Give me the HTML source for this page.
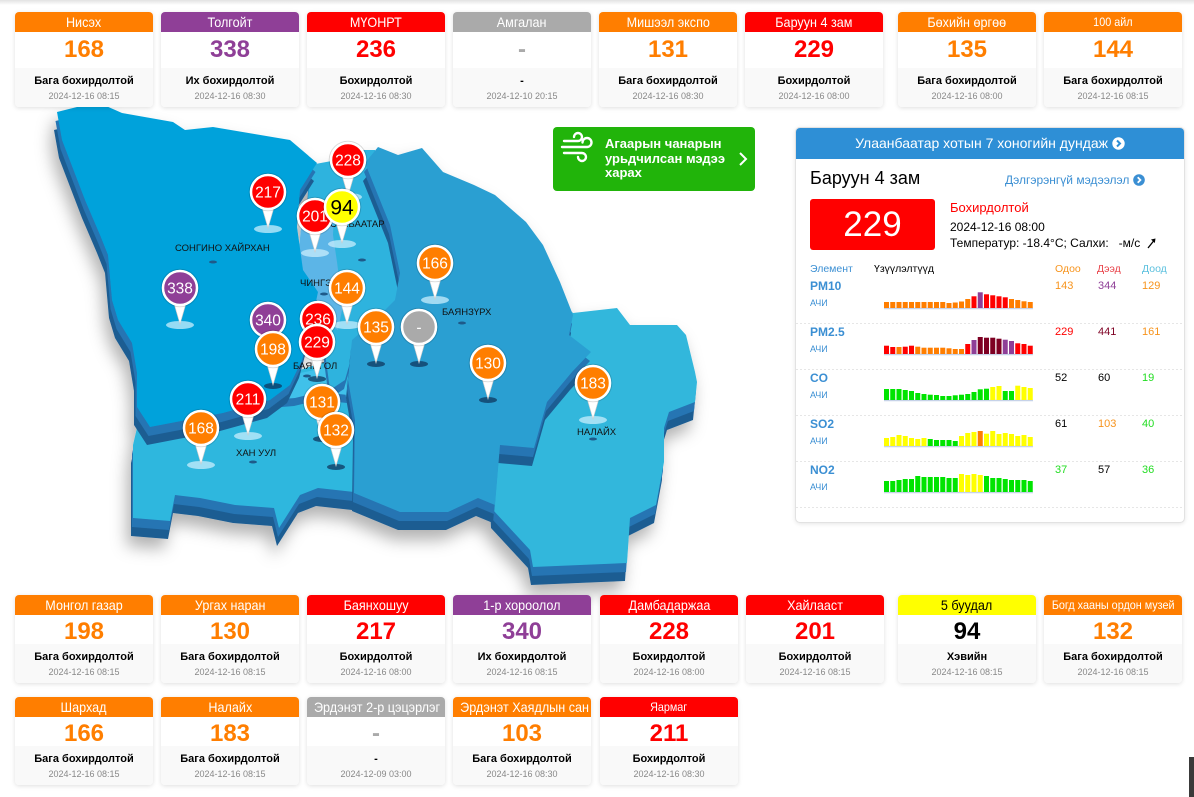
<!DOCTYPE html>
<html><head><meta charset="utf-8">
<style>
*{box-sizing:border-box;margin:0;padding:0}
body{width:1194px;height:797px;overflow:hidden;background:#fff;font-family:"Liberation Sans",Arial,sans-serif;position:relative}
.topbar{position:absolute;left:0;top:0;width:1194px;height:5px;background:linear-gradient(#e2e2e2,#fff)}
.c{position:absolute;width:138px;background:#fff;border-radius:4px;box-shadow:0 1px 5px rgba(0,0,0,.13);overflow:hidden}
.h{height:20px;line-height:20px;text-align:center;color:#fff;font-size:14px;white-space:nowrap;overflow:hidden}
.h span{display:inline-block;transform:scaleX(.9)}
.h.s{font-size:12px}
.v{font-size:24px;font-weight:bold;text-align:center}
.t .v{height:36px;line-height:36px}
.b .v{height:29px;line-height:34px}
.f{height:39px;background:#f9f9f9;text-align:center}
.k{font-size:11px;font-weight:bold;line-height:14px;padding-top:6px;color:#000}
.d{font-size:9px;color:#888;line-height:12px;margin-top:2px}
.O{background:#ff7e00}.R{background:#ff0000}.P{background:#8f3f97}.G{background:#aaaaaa}.Y{background:#ffff00;color:#000}
.tO{color:#ff7e00}.tR{color:#ff0000}.tP{color:#8f3f97}.tG{color:#aaa}.tK{color:#000}
.abs{position:absolute;white-space:nowrap}
</style></head><body>
<div class="topbar"></div>

<!-- MAP -->
<svg class="abs" style="left:0;top:0" width="1194" height="797" viewBox="0 0 1194 797">
<defs>
<filter id="sh" x="-20%" y="-20%" width="140%" height="140%"><feDropShadow dx="-4" dy="10" stdDeviation="8" flood-color="#000" flood-opacity="0.3"/></filter>
<polygon id="nl" points="560,300 573,313 617,308 630,325 677,325 686,335 695,372 697,382 695,402 669,412 664,428 664,462 656,505 630,518 627,563 533,567 530,550 493,510 490,440 540,400 565,340"/>
<polygon id="ku" points="133,445 140,415 230,400 300,370 345,355 360,380 360,493 354,492 318,488 300,495 279,528 274,508 235,505 200,498 175,495 170,521 133,518"/>
<polygon id="bg" points="270,400 278,380 300,373 325,368 345,378 348,395 320,392 295,398"/>
<polygon id="sb" points="310,165 337,160 360,150 375,150 385,200 392,240 400,275 395,305 380,322 355,345 345,380 330,390 318,300 310,280 305,250"/>
<polygon id="ch" points="302,215 318,205 334,210 333,235 337,262 340,285 344,300 338,330 325,322 318,302 305,285 299,250"/>
<polygon id="skh" points="57,112 97,102 122,113 173,122 185,130 213,127 290,140 317,163 300,190 297,227 303,270 318,292 310,330 302,360 290,385 270,400 223,413 150,427 137,407 137,373 132,343 118,320 112,300 108,255 100,235 85,200 62,140"/>
<polygon id="bz" points="365,163 378,147 398,155 422,148 443,172 474,185 495,195 526,222 543,245 560,282 573,315 569,335 591,352 572,372 547,402 534,448 500,445 495,505 478,498 448,512 400,512 354,493 355,420 348,380 352,340 375,320 395,300 400,273 390,225"/>
</defs>
<g filter="url(#sh)">
<use href="#nl" fill="#1d5d92" transform="translate(-2,18)"/><use href="#nl" fill="#2574b3" transform="translate(-1,9)"/><use href="#nl" fill="#30b7dc"/>
<use href="#ku" fill="#1d5d92" transform="translate(-2,18)"/><use href="#ku" fill="#2574b3" transform="translate(-1,9)"/><use href="#ku" fill="#2fb7de"/>
<use href="#bg" fill="#2574b3" transform="translate(-1,8)"/><use href="#bg" fill="#40c1ea"/>
<use href="#sb" fill="#2574b3" transform="translate(-1,9)"/><use href="#sb" fill="#2fb3de"/>
<use href="#ch" fill="#5cb5e7"/>
<use href="#skh" fill="#1d5d92" transform="translate(-3,18)"/><use href="#skh" fill="#2574b3" transform="translate(-1.5,9)"/><use href="#skh" fill="#05a2db"/>
<use href="#bz" fill="#1d5d92" transform="translate(-2,18)"/><use href="#bz" fill="#2574b3" transform="translate(-1,9)"/><use href="#bz" fill="#2c9fd2"/>
</g>
<!-- labels -->
<g font-family="Liberation Sans, Arial, sans-serif" font-size="9.5" fill="#111">
<text x="175" y="251">СОНГИНО ХАЙРХАН</text>
<text x="330" y="227">СҮХБААТАР</text>
<text x="300" y="286">ЧИНГЭЛТЭЙ</text>
<text x="442" y="315">БАЯНЗҮРХ</text>
<text x="293" y="369">БАЯНГОЛ</text>
<text x="236" y="456">ХАН УУЛ</text>
<text x="577" y="435">НАЛАЙХ</text>
</g>
<g fill="#1e5a8a">
<ellipse cx="213" cy="262" rx="4" ry="1.5"/><ellipse cx="362" cy="260" rx="4" ry="1.5"/><ellipse cx="324" cy="294" rx="4" ry="1.5"/><ellipse cx="462" cy="323" rx="4" ry="1.5"/><ellipse cx="307" cy="376" rx="4" ry="1.5"/><ellipse cx="253" cy="462" rx="4" ry="1.5"/><ellipse cx="593" cy="439" rx="4" ry="1.5"/>
</g>
<!-- marker shadows -->
<g fill="rgba(200,238,252,0.75)">
<ellipse cx="348" cy="197" rx="14" ry="4"/><ellipse cx="268" cy="229" rx="14" ry="4"/><ellipse cx="315" cy="253" rx="14" ry="4"/><ellipse cx="342" cy="244" rx="14" ry="4"/><ellipse cx="180" cy="325" rx="14" ry="4"/><ellipse cx="435" cy="300" rx="14" ry="4"/><ellipse cx="347" cy="325" rx="14" ry="4"/><ellipse cx="593" cy="420" rx="14" ry="4"/><ellipse cx="248" cy="436" rx="14" ry="4"/><ellipse cx="201" cy="465" rx="14" ry="4"/>
</g>
<g fill="rgba(15,55,95,0.75)">
<ellipse cx="376" cy="364" rx="9" ry="3"/><ellipse cx="419" cy="364" rx="9" ry="3"/><ellipse cx="273" cy="386" rx="9" ry="3"/><ellipse cx="317" cy="379" rx="9" ry="3"/><ellipse cx="488" cy="400" rx="9" ry="3"/><ellipse cx="322" cy="439" rx="9" ry="3"/><ellipse cx="336" cy="467" rx="9" ry="3"/>
</g>
<!-- markers -->
<g font-family="Liberation Sans, Arial, sans-serif" font-size="15.5" text-anchor="middle" fill="#fff">
<g transform="translate(348,160)"><path d="M-7 12 L0 36 L7 12Z" fill="#fff" stroke="#ccc" stroke-width=".6"/><circle r="18.8" fill="none" stroke="rgba(0,0,0,.15)"/><circle r="17" fill="#ff0000" stroke="#fff" stroke-width="2.5"/><text y="5.5">228</text></g>
<g transform="translate(268,192)"><path d="M-7 12 L0 36 L7 12Z" fill="#fff" stroke="#ccc" stroke-width=".6"/><circle r="18.8" fill="none" stroke="rgba(0,0,0,.15)"/><circle r="17" fill="#ff0000" stroke="#fff" stroke-width="2.5"/><text y="5.5">217</text></g>
<g transform="translate(315,216)"><path d="M-7 12 L0 36 L7 12Z" fill="#fff" stroke="#ccc" stroke-width=".6"/><circle r="18.8" fill="none" stroke="rgba(0,0,0,.15)"/><circle r="17" fill="#ff0000" stroke="#fff" stroke-width="2.5"/><text y="5.5">201</text></g>
<g transform="translate(342,207)"><path d="M-7 12 L0 36 L7 12Z" fill="#fff" stroke="#ccc" stroke-width=".6"/><circle r="18.8" fill="none" stroke="rgba(0,0,0,.15)"/><circle r="17" fill="#ffff00" stroke="#fff" stroke-width="2.5"/><text y="7.5" font-size="21" fill="#000">94</text></g>
<g transform="translate(180,288)"><path d="M-7 12 L0 36 L7 12Z" fill="#fff" stroke="#ccc" stroke-width=".6"/><circle r="18.8" fill="none" stroke="rgba(0,0,0,.15)"/><circle r="17" fill="#8f3f97" stroke="#fff" stroke-width="2.5"/><text y="5.5">338</text></g>
<g transform="translate(435,263)"><path d="M-7 12 L0 36 L7 12Z" fill="#fff" stroke="#ccc" stroke-width=".6"/><circle r="18.8" fill="none" stroke="rgba(0,0,0,.15)"/><circle r="17" fill="#ff7e00" stroke="#fff" stroke-width="2.5"/><text y="5.5">166</text></g>
<g transform="translate(347,288)"><path d="M-7 12 L0 36 L7 12Z" fill="#fff" stroke="#ccc" stroke-width=".6"/><circle r="18.8" fill="none" stroke="rgba(0,0,0,.15)"/><circle r="17" fill="#ff7e00" stroke="#fff" stroke-width="2.5"/><text y="5.5">144</text></g>
<g transform="translate(268,320)"><path d="M-7 12 L0 36 L7 12Z" fill="#fff" stroke="#ccc" stroke-width=".6"/><circle r="18.8" fill="none" stroke="rgba(0,0,0,.15)"/><circle r="17" fill="#8f3f97" stroke="#fff" stroke-width="2.5"/><text y="5.5">340</text></g>
<g transform="translate(318,319)"><path d="M-7 12 L0 36 L7 12Z" fill="#fff" stroke="#ccc" stroke-width=".6"/><circle r="18.8" fill="none" stroke="rgba(0,0,0,.15)"/><circle r="17" fill="#ff0000" stroke="#fff" stroke-width="2.5"/><text y="5.5">236</text></g>
<g transform="translate(376,327)"><path d="M-7 12 L0 36 L7 12Z" fill="#fff" stroke="#ccc" stroke-width=".6"/><circle r="18.8" fill="none" stroke="rgba(0,0,0,.15)"/><circle r="17" fill="#ff7e00" stroke="#fff" stroke-width="2.5"/><text y="5.5">135</text></g>
<g transform="translate(419,327)"><path d="M-7 12 L0 36 L7 12Z" fill="#fff" stroke="#ccc" stroke-width=".6"/><circle r="18.8" fill="none" stroke="rgba(0,0,0,.15)"/><circle r="17" fill="#aaaaaa" stroke="#fff" stroke-width="2.5"/><text y="5.5">-</text></g>
<g transform="translate(273,349)"><path d="M-7 12 L0 36 L7 12Z" fill="#fff" stroke="#ccc" stroke-width=".6"/><circle r="18.8" fill="none" stroke="rgba(0,0,0,.15)"/><circle r="17" fill="#ff7e00" stroke="#fff" stroke-width="2.5"/><text y="5.5">198</text></g>
<g transform="translate(317,342)"><path d="M-7 12 L0 36 L7 12Z" fill="#fff" stroke="#ccc" stroke-width=".6"/><circle r="18.8" fill="none" stroke="rgba(0,0,0,.15)"/><circle r="17" fill="#ff0000" stroke="#fff" stroke-width="2.5"/><text y="5.5">229</text></g>
<g transform="translate(488,363)"><path d="M-7 12 L0 36 L7 12Z" fill="#fff" stroke="#ccc" stroke-width=".6"/><circle r="18.8" fill="none" stroke="rgba(0,0,0,.15)"/><circle r="17" fill="#ff7e00" stroke="#fff" stroke-width="2.5"/><text y="5.5">130</text></g>
<g transform="translate(593,383)"><path d="M-7 12 L0 36 L7 12Z" fill="#fff" stroke="#ccc" stroke-width=".6"/><circle r="18.8" fill="none" stroke="rgba(0,0,0,.15)"/><circle r="17" fill="#ff7e00" stroke="#fff" stroke-width="2.5"/><text y="5.5">183</text></g>
<g transform="translate(248,399)"><path d="M-7 12 L0 36 L7 12Z" fill="#fff" stroke="#ccc" stroke-width=".6"/><circle r="18.8" fill="none" stroke="rgba(0,0,0,.15)"/><circle r="17" fill="#ff0000" stroke="#fff" stroke-width="2.5"/><text y="5.5">211</text></g>
<g transform="translate(322,402)"><path d="M-7 12 L0 36 L7 12Z" fill="#fff" stroke="#ccc" stroke-width=".6"/><circle r="18.8" fill="none" stroke="rgba(0,0,0,.15)"/><circle r="17" fill="#ff7e00" stroke="#fff" stroke-width="2.5"/><text y="5.5">131</text></g>
<g transform="translate(201,428)"><path d="M-7 12 L0 36 L7 12Z" fill="#fff" stroke="#ccc" stroke-width=".6"/><circle r="18.8" fill="none" stroke="rgba(0,0,0,.15)"/><circle r="17" fill="#ff7e00" stroke="#fff" stroke-width="2.5"/><text y="5.5">168</text></g>
<g transform="translate(336,430)"><path d="M-7 12 L0 36 L7 12Z" fill="#fff" stroke="#ccc" stroke-width=".6"/><circle r="18.8" fill="none" stroke="rgba(0,0,0,.15)"/><circle r="17" fill="#ff7e00" stroke="#fff" stroke-width="2.5"/><text y="5.5">132</text></g>
</g>
</svg>

<!-- TOP CARDS -->
<div class="c t" style="left:15px;top:12px"><div class="h O"><span>Нисэх</span></div><div class="v tO">168</div><div class="f"><div class="k">Бага бохирдолтой</div><div class="d">2024-12-16 08:15</div></div></div>
<div class="c t" style="left:161px;top:12px"><div class="h P"><span>Толгойт</span></div><div class="v tP">338</div><div class="f"><div class="k">Их бохирдолтой</div><div class="d">2024-12-16 08:30</div></div></div>
<div class="c t" style="left:307px;top:12px"><div class="h R"><span>МҮОНРТ</span></div><div class="v tR">236</div><div class="f"><div class="k">Бохирдолтой</div><div class="d">2024-12-16 08:30</div></div></div>
<div class="c t" style="left:453px;top:12px"><div class="h G"><span>Амгалан</span></div><div class="v tG">-</div><div class="f"><div class="k">-</div><div class="d">2024-12-10 20:15</div></div></div>
<div class="c t" style="left:599px;top:12px"><div class="h O"><span>Мишээл экспо</span></div><div class="v tO">131</div><div class="f"><div class="k">Бага бохирдолтой</div><div class="d">2024-12-16 08:30</div></div></div>
<div class="c t" style="left:745px;top:12px"><div class="h R"><span>Баруун 4 зам</span></div><div class="v tR">229</div><div class="f"><div class="k">Бохирдолтой</div><div class="d">2024-12-16 08:00</div></div></div>
<div class="c t" style="left:898px;top:12px"><div class="h O"><span>Бөхийн өргөө</span></div><div class="v tO">135</div><div class="f"><div class="k">Бага бохирдолтой</div><div class="d">2024-12-16 08:00</div></div></div>
<div class="c t" style="left:1044px;top:12px"><div class="h O s"><span>100 айл</span></div><div class="v tO">144</div><div class="f"><div class="k">Бага бохирдолтой</div><div class="d">2024-12-16 08:15</div></div></div>

<!-- GREEN BUTTON -->
<div class="abs" style="left:553px;top:127px;width:202px;height:64px;background:#21b40a;border-radius:4px"></div>
<svg class="abs" style="left:560px;top:130px" width="36" height="40" viewBox="0 0 36 40" fill="none" stroke="#fff" stroke-width="2.4" stroke-linecap="round">
<path d="M4 11 H18 A4 4 0 1 0 14 7"/>
<path d="M2 17 H27 A4.5 4.5 0 1 0 22.5 12.5"/>
<path d="M4 23 H22 A4 4 0 1 1 18 27"/>
</svg>
<div class="abs" style="left:605px;top:137px;color:#fff;font-weight:bold;font-size:13px;line-height:14.5px">Агаарын чанарын<br>урьдчилсан мэдээ<br>харах</div>
<svg class="abs" style="left:738px;top:152px" width="10" height="14" viewBox="0 0 10 14"><path d="M2 1 L8 7 L2 13" fill="none" stroke="#fff" stroke-width="2"/></svg>

<!-- RIGHT PANEL -->
<div class="abs" style="left:795px;top:127px;width:390px;height:396px;border:1px solid #e2e2e2;border-radius:5px;box-shadow:0 1px 4px rgba(0,0,0,.1);background:#fff;overflow:hidden">
<div style="height:31px;background:#2e8fd6;color:#fff;font-size:14px;line-height:31px;text-align:center">Улаанбаатар хотын 7 хоногийн дундаж <svg width="13" height="13" viewBox="0 0 13 13" style="vertical-align:-2px"><circle cx="6.5" cy="6.5" r="6.2" fill="#fff"/><path d="M5 3.5 L8 6.5 L5 9.5" fill="none" stroke="#2e8fd6" stroke-width="2"/></svg></div>
</div>
<div class="abs" style="left:810px;top:168px;font-size:18px;line-height:20px;color:#000">Баруун 4 зам</div>
<div class="abs" style="left:1005px;top:172px;font-size:12px;line-height:16px;color:#3b8fd3">Дэлгэрэнгүй мэдээлэл <svg width="12" height="12" viewBox="0 0 12 12" style="vertical-align:-2px"><circle cx="6" cy="6" r="5.8" fill="#3b8fd3"/><path d="M4.7 3.3 L7.4 6 L4.7 8.7" fill="none" stroke="#fff" stroke-width="1.8"/></svg></div>
<div class="abs" style="left:810px;top:199px;width:125px;height:51px;background:#ff0000;border-radius:3px;color:#fff;font-size:35px;line-height:51px;text-align:center">229</div>
<div class="abs" style="left:950px;top:200px;font-size:13px;line-height:16px;color:#ff0000">Бохирдолтой</div>
<div class="abs" style="left:950px;top:219px;font-size:12px;line-height:16px;color:#000">2024-12-16 08:00</div>
<div class="abs" style="left:950px;top:235px;font-size:12px;line-height:16px;color:#000">Температур: -18.4°C; Салхи: &nbsp; -м/с</div>
<svg class="abs" style="left:1146px;top:237px" width="11" height="12" viewBox="0 0 11 12"><path d="M2 11 L8 3.5" stroke="#000" stroke-width="1.3"/><path d="M5 2.5 L9.5 1.5 L8.8 6Z" fill="#000"/></svg>

<div class="abs" style="left:810px;top:262px;font-size:10.5px;line-height:14px;color:#3b8fd3">Элемент</div>
<div class="abs" style="left:874px;top:262px;font-size:10.5px;line-height:14px;color:#000">Үзүүлэлтүүд</div>
<div class="abs" style="left:1055px;top:262px;font-size:10.5px;line-height:14px;color:#f7941d">Одоо</div>
<div class="abs" style="left:1097px;top:262px;font-size:10.5px;line-height:14px;color:#e8434a">Дээд</div>
<div class="abs" style="left:1142px;top:262px;font-size:10.5px;line-height:14px;color:#5bc0de">Доод</div>

<!-- rows -->
<div class="abs" style="left:810px;top:279px;font-size:12px;font-weight:bold;line-height:15px;color:#3b8fd3">PM10</div>
<div class="abs" style="left:810px;top:297px;font-size:9px;line-height:12px;color:#3b8fd3">АЧИ</div>
<div class="abs" style="left:1055px;top:279px;font-size:11px;line-height:14px;color:#f7941d">143</div>
<div class="abs" style="left:1098px;top:279px;font-size:11px;line-height:14px;color:#8f3f97">344</div>
<div class="abs" style="left:1142px;top:279px;font-size:11px;line-height:14px;color:#f7941d">129</div>

<div class="abs" style="left:810px;top:325px;font-size:12px;font-weight:bold;line-height:15px;color:#3b8fd3">PM2.5</div>
<div class="abs" style="left:810px;top:343px;font-size:9px;line-height:12px;color:#3b8fd3">АЧИ</div>
<div class="abs" style="left:1055px;top:325px;font-size:11px;line-height:14px;color:#ff0000">229</div>
<div class="abs" style="left:1098px;top:325px;font-size:11px;line-height:14px;color:#7e0023">441</div>
<div class="abs" style="left:1142px;top:325px;font-size:11px;line-height:14px;color:#f7941d">161</div>

<div class="abs" style="left:810px;top:371px;font-size:12px;font-weight:bold;line-height:15px;color:#3b8fd3">CO</div>
<div class="abs" style="left:810px;top:389px;font-size:9px;line-height:12px;color:#3b8fd3">АЧИ</div>
<div class="abs" style="left:1055px;top:371px;font-size:11px;line-height:14px;color:#000">52</div>
<div class="abs" style="left:1098px;top:371px;font-size:11px;line-height:14px;color:#000">60</div>
<div class="abs" style="left:1142px;top:371px;font-size:11px;line-height:14px;color:#22dd22">19</div>

<div class="abs" style="left:810px;top:417px;font-size:12px;font-weight:bold;line-height:15px;color:#3b8fd3">SO2</div>
<div class="abs" style="left:810px;top:435px;font-size:9px;line-height:12px;color:#3b8fd3">АЧИ</div>
<div class="abs" style="left:1055px;top:417px;font-size:11px;line-height:14px;color:#000">61</div>
<div class="abs" style="left:1098px;top:417px;font-size:11px;line-height:14px;color:#f7941d">103</div>
<div class="abs" style="left:1142px;top:417px;font-size:11px;line-height:14px;color:#22dd22">40</div>

<div class="abs" style="left:810px;top:463px;font-size:12px;font-weight:bold;line-height:15px;color:#3b8fd3">NO2</div>
<div class="abs" style="left:810px;top:481px;font-size:9px;line-height:12px;color:#3b8fd3">АЧИ</div>
<div class="abs" style="left:1055px;top:463px;font-size:11px;line-height:14px;color:#22dd22">37</div>
<div class="abs" style="left:1098px;top:463px;font-size:11px;line-height:14px;color:#000">57</div>
<div class="abs" style="left:1142px;top:463px;font-size:11px;line-height:14px;color:#22dd22">36</div>

<svg class="abs" style="left:795px;top:255px" width="390" height="260" viewBox="795 255 390 260">
<g stroke="#e6e6e6" stroke-dasharray="2,2" stroke-width="1">
<line x1="796" y1="323.5" x2="1184" y2="323.5"/><line x1="796" y1="369.5" x2="1184" y2="369.5"/><line x1="796" y1="415.5" x2="1184" y2="415.5"/><line x1="796" y1="461.5" x2="1184" y2="461.5"/><line x1="796" y1="507.5" x2="1184" y2="507.5"/>
</g>
<g stroke="#c6d2e8" stroke-width="1.5">
<line x1="884" y1="308.5" x2="1033" y2="308.5"/><line x1="884" y1="354.5" x2="1033" y2="354.5"/><line x1="884" y1="400.5" x2="1033" y2="400.5"/><line x1="884" y1="446.5" x2="1033" y2="446.5"/><line x1="884" y1="492.5" x2="1033" y2="492.5"/>
</g>
<!-- PM10 bottom 308 -->
<g>
<rect x="884" y="302" width="5" height="6" fill="#ff7e00"/><rect x="890.25" y="302" width="5" height="6" fill="#ff7e00"/><rect x="896.5" y="302" width="5" height="6" fill="#ff7e00"/><rect x="902.75" y="302" width="5" height="6" fill="#ff7e00"/><rect x="909" y="302" width="5" height="6" fill="#ff7e00"/><rect x="915.25" y="302" width="5" height="6" fill="#ff7e00"/><rect x="921.5" y="302" width="5" height="6" fill="#ff7e00"/><rect x="927.75" y="302" width="5" height="6" fill="#ff7e00"/><rect x="934" y="302" width="5" height="6" fill="#ff7e00"/><rect x="940.25" y="302" width="5" height="6" fill="#ff7e00"/><rect x="946.5" y="303" width="5" height="5" fill="#ff7e00"/><rect x="952.75" y="302.5" width="5" height="5.5" fill="#ff7e00"/><rect x="959" y="301.5" width="5" height="6.5" fill="#ff7e00"/><rect x="965.25" y="299" width="5" height="9" fill="#ff7e00"/><rect x="971.5" y="296.3" width="5" height="11.7" fill="#ff0000"/><rect x="977.75" y="292.3" width="5" height="15.7" fill="#8f3f97"/><rect x="984" y="294.3" width="5" height="13.7" fill="#ff0000"/><rect x="990.25" y="295.3" width="5" height="12.7" fill="#ff0000"/><rect x="996.5" y="296.3" width="5" height="11.7" fill="#ff0000"/><rect x="1002.75" y="297.3" width="5" height="10.7" fill="#ff0000"/><rect x="1009" y="299" width="5" height="9" fill="#ff7e00"/><rect x="1015.25" y="300" width="5" height="8" fill="#ff7e00"/><rect x="1021.5" y="301.3" width="5" height="6.7" fill="#ff7e00"/><rect x="1027.75" y="302" width="5" height="6" fill="#ff7e00"/>
</g>
<!-- PM2.5 bottom 354 -->
<g>
<rect x="884" y="345.7" width="5" height="8.3" fill="#ff0000"/><rect x="890.25" y="347" width="5" height="7" fill="#ff0000"/><rect x="896.5" y="347" width="5" height="7" fill="#ff7e00"/><rect x="902.75" y="346.7" width="5" height="7.3" fill="#ff0000"/><rect x="909" y="345.7" width="5" height="8.3" fill="#ff0000"/><rect x="915.25" y="346.7" width="5" height="7.3" fill="#ff7e00"/><rect x="921.5" y="347.7" width="5" height="6.3" fill="#ff7e00"/><rect x="927.75" y="347.7" width="5" height="6.3" fill="#ff7e00"/><rect x="934" y="347.7" width="5" height="6.3" fill="#ff7e00"/><rect x="940.25" y="347.7" width="5" height="6.3" fill="#ff7e00"/><rect x="946.5" y="348.3" width="5" height="5.7" fill="#ff7e00"/><rect x="952.75" y="349" width="5" height="5" fill="#ff7e00"/><rect x="959" y="349" width="5" height="5" fill="#ff7e00"/><rect x="965.25" y="344" width="5" height="10" fill="#ff0000"/><rect x="971.5" y="340" width="5" height="14" fill="#8f3f97"/><rect x="977.75" y="337" width="5" height="17" fill="#7e0023"/><rect x="984" y="337.7" width="5" height="16.3" fill="#7e0023"/><rect x="990.25" y="337.7" width="5" height="16.3" fill="#7e0023"/><rect x="996.5" y="338.7" width="5" height="15.3" fill="#7e0023"/><rect x="1002.75" y="339.7" width="5" height="14.3" fill="#8f3f97"/><rect x="1009" y="341" width="5" height="13" fill="#8f3f97"/><rect x="1015.25" y="343.3" width="5" height="10.7" fill="#ff0000"/><rect x="1021.5" y="344" width="5" height="10" fill="#ff0000"/><rect x="1027.75" y="345.7" width="5" height="8.3" fill="#ff0000"/>
</g>
<!-- CO bottom 400 -->
<g>
<rect x="884" y="389" width="5" height="11" fill="#00e400"/><rect x="890.25" y="389" width="5" height="11" fill="#00e400"/><rect x="896.5" y="389" width="5" height="11" fill="#00e400"/><rect x="902.75" y="390" width="5" height="10" fill="#00e400"/><rect x="909" y="391" width="5" height="9" fill="#00e400"/><rect x="915.25" y="393" width="5" height="7" fill="#00e400"/><rect x="921.5" y="394" width="5" height="6" fill="#00e400"/><rect x="927.75" y="394.7" width="5" height="5.3" fill="#00e400"/><rect x="934" y="395" width="5" height="5" fill="#00e400"/><rect x="940.25" y="396" width="5" height="4" fill="#00e400"/><rect x="946.5" y="396" width="5" height="4" fill="#00e400"/><rect x="952.75" y="395.3" width="5" height="4.7" fill="#00e400"/><rect x="959" y="394.7" width="5" height="5.3" fill="#00e400"/><rect x="965.25" y="394" width="5" height="6" fill="#00e400"/><rect x="971.5" y="392" width="5" height="8" fill="#00e400"/><rect x="977.75" y="389.3" width="5" height="10.7" fill="#00e400"/><rect x="984" y="388.7" width="5" height="11.3" fill="#00e400"/><rect x="990.25" y="387" width="5" height="13" fill="#ffff00"/><rect x="996.5" y="386" width="5" height="14" fill="#ffff00"/><rect x="1002.75" y="391" width="5" height="9" fill="#00e400"/><rect x="1009" y="391" width="5" height="9" fill="#00e400"/><rect x="1015.25" y="385.7" width="5" height="14.3" fill="#ffff00"/><rect x="1021.5" y="387" width="5" height="13" fill="#ffff00"/><rect x="1027.75" y="388" width="5" height="12" fill="#ffff00"/>
</g>
<!-- SO2 bottom 446 -->
<g>
<rect x="884" y="438" width="5" height="8" fill="#ffff00"/><rect x="890.25" y="437" width="5" height="9" fill="#ffff00"/><rect x="896.5" y="435" width="5" height="11" fill="#ffff00"/><rect x="902.75" y="436" width="5" height="10" fill="#ffff00"/><rect x="909" y="438" width="5" height="8" fill="#ffff00"/><rect x="915.25" y="439" width="5" height="7" fill="#ffff00"/><rect x="921.5" y="438" width="5" height="8" fill="#ffff00"/><rect x="927.75" y="439" width="5" height="7" fill="#00e400"/><rect x="934" y="440" width="5" height="6" fill="#00e400"/><rect x="940.25" y="440" width="5" height="6" fill="#00e400"/><rect x="946.5" y="440" width="5" height="6" fill="#00e400"/><rect x="952.75" y="441" width="5" height="5" fill="#00e400"/><rect x="959" y="436" width="5" height="10" fill="#ffff00"/><rect x="965.25" y="433" width="5" height="13" fill="#ffff00"/><rect x="971.5" y="432" width="5" height="14" fill="#ffff00"/><rect x="977.75" y="431" width="5" height="15" fill="#ff7e00"/><rect x="984" y="433.7" width="5" height="12.3" fill="#ffff00"/><rect x="990.25" y="431" width="5" height="15" fill="#ffff00"/><rect x="996.5" y="434" width="5" height="12" fill="#ffff00"/><rect x="1002.75" y="433" width="5" height="13" fill="#ffff00"/><rect x="1009" y="434" width="5" height="12" fill="#ffff00"/><rect x="1015.25" y="436" width="5" height="10" fill="#ffff00"/><rect x="1021.5" y="435" width="5" height="11" fill="#ffff00"/><rect x="1027.75" y="437" width="5" height="9" fill="#ffff00"/>
</g>
<!-- NO2 bottom 492 -->
<g>
<rect x="884" y="481" width="5" height="11" fill="#00e400"/><rect x="890.25" y="481" width="5" height="11" fill="#00e400"/><rect x="896.5" y="480" width="5" height="12" fill="#00e400"/><rect x="902.75" y="479" width="5" height="13" fill="#00e400"/><rect x="909" y="479" width="5" height="13" fill="#00e400"/><rect x="915.25" y="476" width="5" height="16" fill="#00e400"/><rect x="921.5" y="477" width="5" height="15" fill="#00e400"/><rect x="927.75" y="477" width="5" height="15" fill="#00e400"/><rect x="934" y="477" width="5" height="15" fill="#00e400"/><rect x="940.25" y="477" width="5" height="15" fill="#00e400"/><rect x="946.5" y="478" width="5" height="14" fill="#00e400"/><rect x="952.75" y="478" width="5" height="14" fill="#00e400"/><rect x="959" y="474" width="5" height="18" fill="#ffff00"/><rect x="965.25" y="475" width="5" height="17" fill="#ffff00"/><rect x="971.5" y="474" width="5" height="18" fill="#ffff00"/><rect x="977.75" y="475" width="5" height="17" fill="#ffff00"/><rect x="984" y="476" width="5" height="16" fill="#00e400"/><rect x="990.25" y="478" width="5" height="14" fill="#00e400"/><rect x="996.5" y="478" width="5" height="14" fill="#00e400"/><rect x="1002.75" y="479" width="5" height="13" fill="#00e400"/><rect x="1009" y="480" width="5" height="12" fill="#00e400"/><rect x="1015.25" y="480" width="5" height="12" fill="#00e400"/><rect x="1021.5" y="480" width="5" height="12" fill="#00e400"/><rect x="1027.75" y="481" width="5" height="11" fill="#00e400"/>
</g>
</svg>

<!-- BOTTOM CARDS ROW 1 -->
<div class="c b" style="left:15px;top:595px"><div class="h O"><span>Монгол газар</span></div><div class="v tO">198</div><div class="f"><div class="k">Бага бохирдолтой</div><div class="d">2024-12-16 08:15</div></div></div>
<div class="c b" style="left:161px;top:595px"><div class="h O"><span>Ургах наран</span></div><div class="v tO">130</div><div class="f"><div class="k">Бага бохирдолтой</div><div class="d">2024-12-16 08:15</div></div></div>
<div class="c b" style="left:307px;top:595px"><div class="h R"><span>Баянхошуу</span></div><div class="v tR">217</div><div class="f"><div class="k">Бохирдолтой</div><div class="d">2024-12-16 08:00</div></div></div>
<div class="c b" style="left:453px;top:595px"><div class="h P"><span>1-р хороолол</span></div><div class="v tP">340</div><div class="f"><div class="k">Их бохирдолтой</div><div class="d">2024-12-16 08:15</div></div></div>
<div class="c b" style="left:600px;top:595px"><div class="h R"><span>Дамбадаржаа</span></div><div class="v tR">228</div><div class="f"><div class="k">Бохирдолтой</div><div class="d">2024-12-16 08:00</div></div></div>
<div class="c b" style="left:746px;top:595px"><div class="h R"><span>Хайлааст</span></div><div class="v tR">201</div><div class="f"><div class="k">Бохирдолтой</div><div class="d">2024-12-16 08:15</div></div></div>
<div class="c b" style="left:898px;top:595px"><div class="h Y"><span>5 буудал</span></div><div class="v tK">94</div><div class="f"><div class="k">Хэвийн</div><div class="d">2024-12-16 08:15</div></div></div>
<div class="c b" style="left:1044px;top:595px"><div class="h O s"><span>Богд хааны ордон музей</span></div><div class="v tO">132</div><div class="f"><div class="k">Бага бохирдолтой</div><div class="d">2024-12-16 08:15</div></div></div>

<!-- BOTTOM CARDS ROW 2 -->
<div class="c b" style="left:15px;top:697px"><div class="h O"><span>Шархад</span></div><div class="v tO">166</div><div class="f"><div class="k">Бага бохирдолтой</div><div class="d">2024-12-16 08:15</div></div></div>
<div class="c b" style="left:161px;top:697px"><div class="h O"><span>Налайх</span></div><div class="v tO">183</div><div class="f"><div class="k">Бага бохирдолтой</div><div class="d">2024-12-16 08:15</div></div></div>
<div class="c b" style="left:307px;top:697px"><div class="h G"><span>Эрдэнэт 2-р цэцэрлэг</span></div><div class="v tG">-</div><div class="f"><div class="k">-</div><div class="d">2024-12-09 03:00</div></div></div>
<div class="c b" style="left:453px;top:697px"><div class="h O"><span>Эрдэнэт Хаядлын сан</span></div><div class="v tO">103</div><div class="f"><div class="k">Бага бохирдолтой</div><div class="d">2024-12-16 08:30</div></div></div>
<div class="c b" style="left:600px;top:697px"><div class="h R s"><span>Яармаг</span></div><div class="v tR">211</div><div class="f"><div class="k">Бохирдолтой</div><div class="d">2024-12-16 08:30</div></div></div>

<div class="abs" style="left:1189px;top:757px;width:5px;height:40px;background:#3a3a3a"></div>
</body></html>
